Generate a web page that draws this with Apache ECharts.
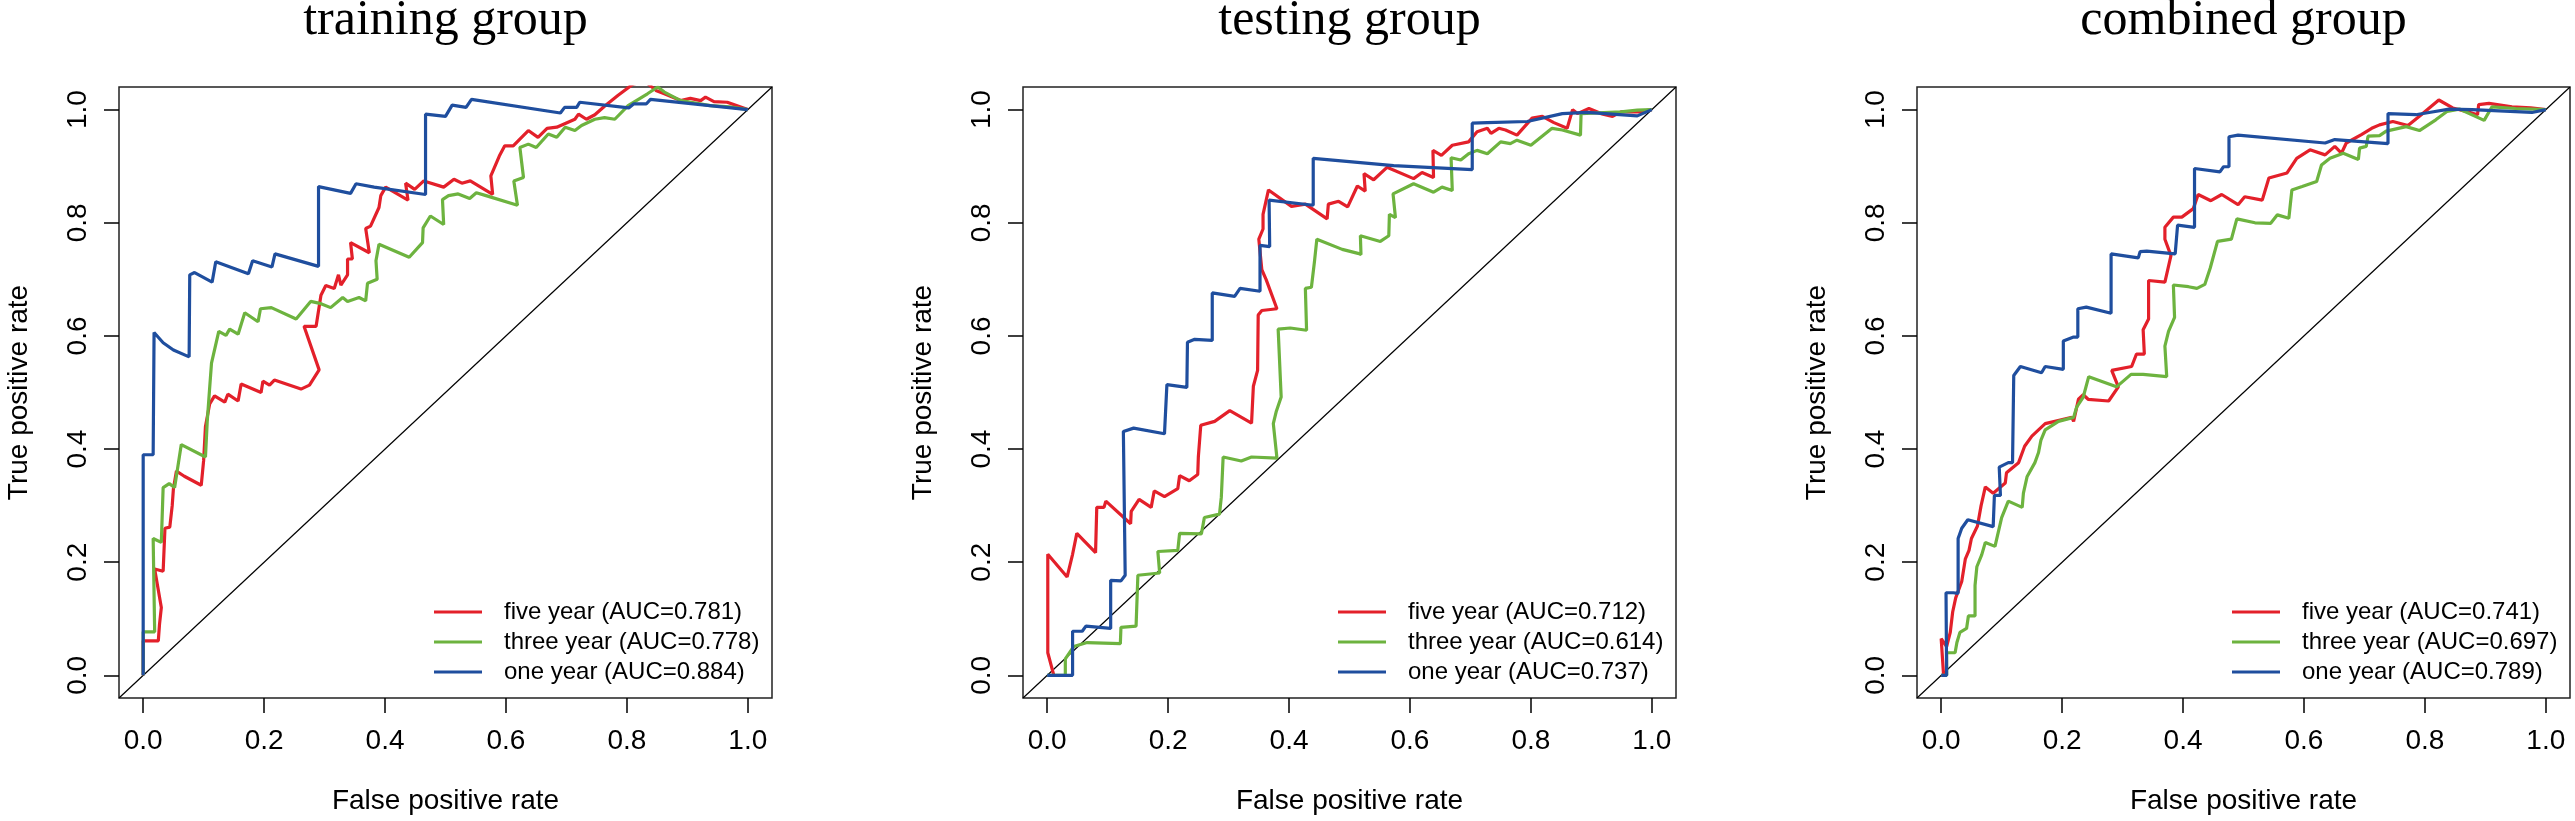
<!DOCTYPE html>
<html>
<head>
<meta charset="utf-8">
<script src="https://cdn.jsdelivr.net/npm/echarts@6/dist/echarts.min.js"></script>
<style>
html,body{margin:0;padding:0;background:#fff;}
#chart{width:2575px;height:821px;}
</style>
</head>
<body>
<div id="chart"></div>
<script>
// ---------- DATA ----------
const panelTitles = ['training group', 'testing group', 'combined group'];
const seriesLabels = ['five year', 'three year', 'one year'];
const aucTrain = ['0.781', '0.778', '0.884'];
const aucTest = ['0.712', '0.614', '0.737'];
const aucComb = ['0.741', '0.697', '0.789'];
const tickValues = [0, 0.2, 0.4, 0.6, 0.8, 1.0];
const refLine = [[-0.04, -0.04], [1.04, 1.04]];

// training group
const train5 = [[0,0],[0,0.061],[0.025,0.061],[0.027,0.09],[0.03,0.12],[0.019,0.188],[0.033,0.184],[0.036,0.26],[0.044,0.262],[0.048,0.3],[0.05,0.33],[0.055,0.361],[0.068,0.352],[0.096,0.336],[0.1,0.38],[0.103,0.44],[0.11,0.48],[0.118,0.494],[0.135,0.483],[0.14,0.497],[0.157,0.485],[0.162,0.515],[0.195,0.5],[0.198,0.52],[0.209,0.513],[0.217,0.522],[0.261,0.506],[0.275,0.513],[0.291,0.54],[0.266,0.617],[0.286,0.617],[0.294,0.672],[0.302,0.689],[0.316,0.684],[0.323,0.708],[0.327,0.69],[0.338,0.708],[0.338,0.736],[0.346,0.736],[0.343,0.765],[0.374,0.747],[0.368,0.79],[0.376,0.794],[0.39,0.827],[0.393,0.848],[0.401,0.863],[0.438,0.84],[0.434,0.87],[0.449,0.859],[0.464,0.874],[0.497,0.863],[0.514,0.877],[0.527,0.87],[0.541,0.874],[0.578,0.85],[0.575,0.883],[0.589,0.918],[0.598,0.936],[0.612,0.936],[0.623,0.948],[0.637,0.963],[0.653,0.951],[0.668,0.967],[0.684,0.969],[0.714,0.983],[0.72,0.992],[0.733,0.983],[0.747,0.991],[0.763,1.006],[0.785,1.025],[0.81,1.045],[0.83,1.05],[0.848,1.034],[0.862,1.028],[0.889,1.016],[0.905,1.02],[0.922,1.016],[0.93,1.022],[0.944,1.014],[0.966,1.013],[1,1]];
const train3 = [[0,0],[0,0.077],[0.019,0.077],[0.0165,0.242],[0.03,0.235],[0.033,0.332],[0.043,0.339],[0.052,0.332],[0.063,0.408],[0.103,0.386],[0.106,0.45],[0.11,0.509],[0.113,0.552],[0.125,0.608],[0.137,0.601],[0.143,0.612],[0.157,0.603],[0.168,0.641],[0.19,0.625],[0.194,0.648],[0.212,0.65],[0.253,0.63],[0.277,0.661],[0.294,0.657],[0.31,0.65],[0.33,0.668],[0.338,0.661],[0.357,0.668],[0.368,0.662],[0.371,0.693],[0.387,0.7],[0.385,0.733],[0.39,0.762],[0.44,0.739],[0.462,0.765],[0.463,0.791],[0.475,0.812],[0.497,0.797],[0.495,0.841],[0.505,0.848],[0.521,0.851],[0.54,0.843],[0.551,0.853],[0.567,0.848],[0.619,0.831],[0.613,0.874],[0.629,0.88],[0.623,0.933],[0.637,0.939],[0.65,0.933],[0.67,0.957],[0.684,0.951],[0.698,0.969],[0.714,0.963],[0.725,0.972],[0.747,0.983],[0.763,0.986],[0.78,0.983],[0.802,1.007],[0.834,1.028],[0.851,1.04],[0.862,1.031],[0.889,1.016],[0.938,1.007],[0.97,1.005],[1,1]];
const train1 = [[0,0],[0,0.39],[0.0165,0.39],[0.018,0.606],[0.033,0.588],[0.05,0.575],[0.076,0.563],[0.077,0.708],[0.085,0.712],[0.114,0.695],[0.12,0.731],[0.174,0.71],[0.181,0.733],[0.213,0.722],[0.218,0.745],[0.29,0.723],[0.29,0.864],[0.343,0.852],[0.352,0.869],[0.382,0.863],[0.467,0.85],[0.467,0.992],[0.5,0.988],[0.511,1.008],[0.534,1.004],[0.543,1.018],[0.69,0.994],[0.697,1.004],[0.717,1.004],[0.722,1.013],[0.803,1.003],[0.811,1.01],[0.832,1.01],[0.839,1.018],[1,1]];

// testing group
const test5 = [[0.011,0],[0.001,0.04],[0.001,0.214],[0.033,0.174],[0.042,0.214],[0.049,0.251],[0.08,0.217],[0.082,0.297],[0.094,0.297],[0.097,0.308],[0.138,0.268],[0.139,0.29],[0.152,0.311],[0.172,0.297],[0.177,0.326],[0.194,0.316],[0.216,0.33],[0.219,0.353],[0.235,0.344],[0.249,0.355],[0.25,0.386],[0.254,0.442],[0.277,0.449],[0.302,0.468],[0.338,0.446],[0.341,0.511],[0.348,0.539],[0.349,0.637],[0.355,0.645],[0.38,0.648],[0.362,0.7],[0.355,0.717],[0.35,0.771],[0.357,0.789],[0.357,0.815],[0.366,0.858],[0.404,0.829],[0.427,0.833],[0.463,0.807],[0.465,0.833],[0.482,0.838],[0.497,0.828],[0.513,0.865],[0.526,0.856],[0.524,0.887],[0.54,0.876],[0.562,0.898],[0.606,0.878],[0.62,0.889],[0.639,0.88],[0.638,0.928],[0.652,0.919],[0.67,0.937],[0.697,0.943],[0.711,0.961],[0.728,0.967],[0.734,0.958],[0.747,0.967],[0.758,0.964],[0.777,0.955],[0.802,0.985],[0.819,0.988],[0.838,0.977],[0.86,0.967],[0.869,1.0],[0.877,0.993],[0.896,1.002],[0.916,0.993],[0.935,0.988],[0.949,0.996],[0.979,0.996],[1,1]];
const test3 = [[0,0],[0.03,0],[0.03,0.029],[0.044,0.051],[0.066,0.058],[0.121,0.056],[0.122,0.085],[0.147,0.087],[0.15,0.177],[0.186,0.181],[0.183,0.219],[0.216,0.221],[0.219,0.251],[0.255,0.25],[0.26,0.279],[0.285,0.285],[0.288,0.315],[0.291,0.386],[0.321,0.379],[0.338,0.386],[0.38,0.384],[0.374,0.445],[0.379,0.467],[0.387,0.492],[0.382,0.612],[0.402,0.614],[0.429,0.61],[0.427,0.684],[0.437,0.686],[0.442,0.731],[0.446,0.771],[0.488,0.753],[0.514,0.746],[0.519,0.744],[0.518,0.777],[0.551,0.767],[0.565,0.777],[0.566,0.815],[0.576,0.809],[0.572,0.851],[0.606,0.869],[0.639,0.854],[0.653,0.863],[0.67,0.857],[0.668,0.915],[0.684,0.911],[0.697,0.922],[0.711,0.928],[0.728,0.922],[0.75,0.943],[0.766,0.94],[0.777,0.946],[0.8,0.937],[0.835,0.967],[0.852,0.964],[0.882,0.955],[0.883,0.993],[0.949,0.996],[0.976,0.999],[1,1]];
const test1 = [[0,0],[0.042,0],[0.042,0.078],[0.058,0.078],[0.064,0.087],[0.105,0.083],[0.105,0.168],[0.122,0.167],[0.129,0.177],[0.126,0.431],[0.143,0.437],[0.194,0.427],[0.198,0.514],[0.231,0.509],[0.232,0.589],[0.244,0.594],[0.273,0.592],[0.273,0.676],[0.31,0.67],[0.319,0.684],[0.352,0.679],[0.352,0.76],[0.368,0.758],[0.367,0.84],[0.44,0.831],[0.44,0.914],[0.573,0.901],[0.703,0.894],[0.703,0.976],[0.728,0.977],[0.794,0.979],[0.852,0.993],[0.893,0.995],[0.976,0.989],[1,1]];

// combined group
const comb5 = [[0.004,0],[0,0.065],[0.009,0.051],[0.015,0.076],[0.019,0.112],[0.024,0.137],[0.034,0.166],[0.04,0.206],[0.046,0.221],[0.05,0.242],[0.06,0.264],[0.066,0.3],[0.073,0.333],[0.086,0.322],[0.106,0.34],[0.108,0.358],[0.128,0.376],[0.138,0.405],[0.15,0.423],[0.161,0.434],[0.172,0.445],[0.188,0.449],[0.216,0.456],[0.219,0.449],[0.227,0.488],[0.235,0.496],[0.243,0.488],[0.277,0.485],[0.293,0.51],[0.282,0.539],[0.315,0.546],[0.323,0.568],[0.336,0.568],[0.334,0.611],[0.343,0.63],[0.343,0.698],[0.37,0.695],[0.38,0.742],[0.37,0.771],[0.37,0.792],[0.384,0.81],[0.398,0.81],[0.417,0.825],[0.425,0.85],[0.446,0.839],[0.464,0.85],[0.491,0.832],[0.502,0.846],[0.531,0.84],[0.542,0.879],[0.572,0.888],[0.588,0.914],[0.61,0.929],[0.635,0.92],[0.651,0.935],[0.662,0.923],[0.67,0.941],[0.695,0.956],[0.712,0.967],[0.725,0.973],[0.747,0.979],[0.772,0.972],[0.794,0.991],[0.823,1.017],[0.846,1.003],[0.868,0.997],[0.887,0.991],[0.889,1.009],[0.906,1.011],[0.944,1.005],[0.975,1.003],[1,1]];
const comb3 = [[0,0],[0.009,0],[0.009,0.04],[0.023,0.04],[0.026,0.058],[0.031,0.076],[0.042,0.083],[0.045,0.105],[0.056,0.105],[0.056,0.159],[0.059,0.192],[0.067,0.213],[0.073,0.235],[0.089,0.228],[0.1,0.279],[0.111,0.308],[0.134,0.297],[0.136,0.322],[0.142,0.351],[0.155,0.376],[0.161,0.394],[0.165,0.416],[0.172,0.434],[0.194,0.449],[0.219,0.456],[0.224,0.474],[0.235,0.492],[0.244,0.528],[0.29,0.51],[0.314,0.532],[0.334,0.532],[0.373,0.528],[0.37,0.582],[0.376,0.608],[0.386,0.633],[0.384,0.69],[0.409,0.687],[0.423,0.684],[0.436,0.691],[0.445,0.72],[0.457,0.767],[0.48,0.771],[0.489,0.807],[0.519,0.8],[0.545,0.799],[0.556,0.814],[0.575,0.808],[0.58,0.858],[0.597,0.864],[0.621,0.873],[0.629,0.902],[0.643,0.914],[0.665,0.923],[0.69,0.912],[0.692,0.932],[0.703,0.935],[0.706,0.953],[0.725,0.954],[0.736,0.962],[0.769,0.97],[0.791,0.963],[0.818,0.982],[0.837,0.997],[0.857,1.001],[0.898,0.981],[0.911,1.005],[0.95,1.002],[1,1]];
const comb1 = [[0,0],[0.009,0],[0.008,0.146],[0.02,0.146],[0.028,0.145],[0.028,0.242],[0.034,0.26],[0.044,0.275],[0.086,0.263],[0.088,0.318],[0.098,0.318],[0.096,0.368],[0.111,0.376],[0.118,0.376],[0.12,0.53],[0.131,0.546],[0.166,0.535],[0.172,0.546],[0.202,0.541],[0.202,0.591],[0.219,0.598],[0.226,0.598],[0.226,0.648],[0.24,0.651],[0.281,0.64],[0.281,0.745],[0.326,0.738],[0.329,0.749],[0.34,0.75],[0.387,0.745],[0.391,0.796],[0.419,0.792],[0.419,0.896],[0.461,0.89],[0.467,0.899],[0.476,0.899],[0.476,0.952],[0.491,0.955],[0.635,0.941],[0.651,0.947],[0.739,0.94],[0.739,0.993],[0.785,0.991],[0.807,0.995],[0.84,1.001],[0.878,1.0],[0.977,0.995],[1,1]];

// ---------- STYLE / LAYOUT ----------
const colors = ['#E3202A', '#6DB33F', '#1F4E9E'];
const sans = "'Liberation Sans', Arial, sans-serif";
const serif = "'Liberation Serif', 'Times New Roman', serif";
const gridLefts = [119, 1023, 1917];
const gridTop = 87, gridW = 653, gridH = 611;

const panels = [
  { title: panelTitles[0], auc: aucTrain, data: [train5, train3, train1] },
  { title: panelTitles[1], auc: aucTest, data: [test5, test3, test1] },
  { title: panelTitles[2], auc: aucComb, data: [comb5, comb3, comb1] }
];

const option = {
  animation: false,
  backgroundColor: '#fff',
  title: [], grid: [], xAxis: [], yAxis: [], legend: [], series: []
};

panels.forEach((p, i) => {
  const left = gridLefts[i];
  option.title.push({
    text: p.title,
    left: left + gridW / 2 - 5,
    top: -9,
    textAlign: 'center',
    textStyle: { fontFamily: serif, fontSize: 50, fontWeight: 'normal', color: '#000' }
  });
  option.grid.push({
    left: left, top: gridTop, width: gridW, height: gridH,
    show: true, borderColor: '#222', borderWidth: 1.5, backgroundColor: 'transparent'
  });
  const axisCommon = {
    gridIndex: i, type: 'value', min: -0.04, max: 1.04,
    axisLine: { show: false, onZero: false },
    axisTick: { show: true, customValues: tickValues, length: 15, inside: false, lineStyle: { color: '#000', width: 1.5 } },
    splitLine: { show: false },
    nameLocation: 'middle',
    nameTextStyle: { fontFamily: sans, fontSize: 28, color: '#000' }
  };
  option.xAxis.push(Object.assign({}, axisCommon, {
    position: 'bottom',
    name: 'False positive rate', nameGap: 89,
    axisLabel: { customValues: tickValues, formatter: v => v.toFixed(1), fontFamily: sans, fontSize: 28, color: '#000', margin: 29 }
  }));
  option.yAxis.push(Object.assign({}, axisCommon, {
    position: 'left',
    name: 'True positive rate', nameGap: 86,
    axisLabel: { customValues: tickValues, formatter: v => v.toFixed(1), rotate: 90, fontFamily: sans, fontSize: 28, color: '#000', margin: 27 }
  }));
  const names = seriesLabels.map((s, k) => s + ' (AUC=' + p.auc[k] + ')');
  option.legend.push({
    orient: 'vertical', left: left + 310, top: 595,
    icon: 'rect', itemWidth: 48, itemHeight: 3, itemGap: 6,
    selectedMode: false,
    textStyle: { fontFamily: sans, fontSize: 24, color: '#000', padding: [0, 0, 0, 17] },
    data: names
  });
  option.series.push({
    type: 'line', xAxisIndex: i, yAxisIndex: i, data: refLine,
    showSymbol: false, silent: true, lineStyle: { color: '#000', width: 1.2 }, z: 1
  });
  p.data.forEach((d, k) => {
    option.series.push({
      name: names[k], type: 'line', xAxisIndex: i, yAxisIndex: i, data: d,
      showSymbol: false, symbol: 'none', clip: true,
      color: colors[k], lineStyle: { color: colors[k], width: 3.2 }, z: 2 + k
    });
  });
});

const chart = echarts.init(document.getElementById('chart'), null, { renderer: 'canvas' });
chart.setOption(option);
</script>
</body>
</html>
